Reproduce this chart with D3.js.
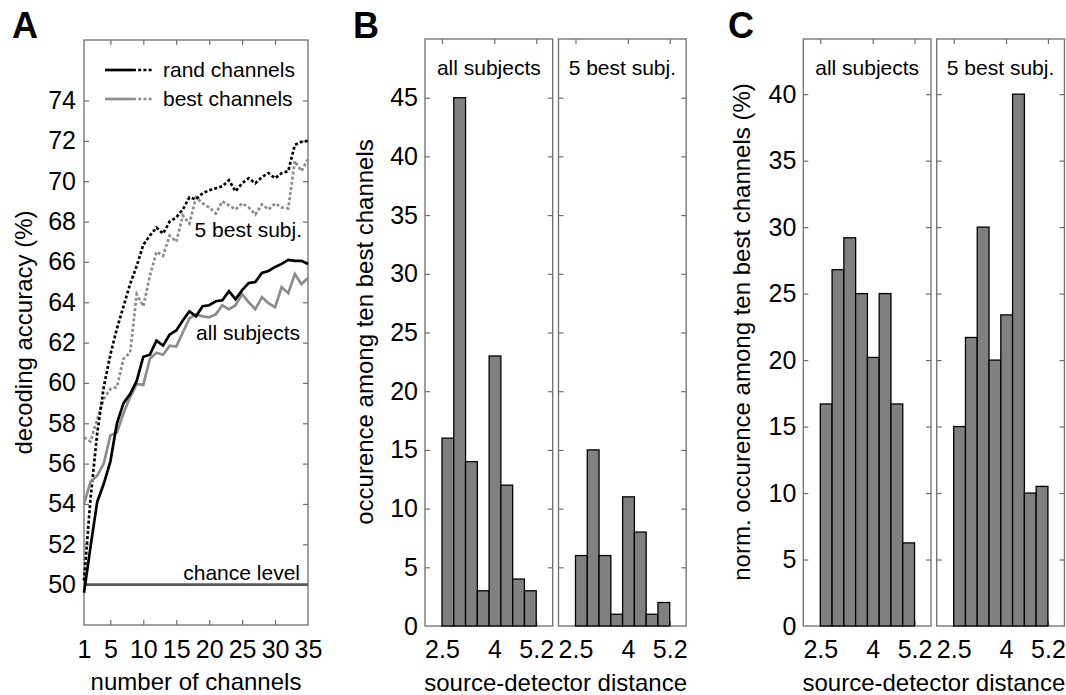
<!DOCTYPE html>
<html lang="en">
<head>
<meta charset="UTF-8">
<title>Decoding accuracy and channel distance</title>
<script src="https://d3js.org/d3.v7.min.js"></script>
<style>
    body {
    margin: 0;
    background-color: white;
    }
    svg text {
    font-family: "Liberation Sans", Arial, sans-serif;
    fill: black;
    }
    .frame {
    fill: none;
    stroke: #6e6e6e;
    stroke-width: 1.3px;
    }
    .tick line {
    stroke: #6e6e6e;
    stroke-width: 1.2px;
    }
    .tick text {
    font-size: 25px;
    }
    .title {
    font-size: 24px;
    }
    .note {
    font-size: 21px;
    }
    .letter {
    font-size: 36px;
    font-weight: bold;
    }
    .bar {
    fill: #808080;
    stroke: black;
    stroke-width: 1.3px;
    }
</style>
</head>
<body>
<svg id="fig" width="1066" height="695"></svg>
<script>
    const width = 1066;
    const height = 695;
    const svg = d3.select("#fig")
                .attr("width", width)
                .attr("height", height);

    // panel A: decoding accuracy vs number of channels
    const channels = [1, 2, 3, 4, 5, 6, 7, 8, 9, 10, 11, 12, 13, 14, 15, 16, 17, 18,
                      19, 20, 21, 22, 23, 24, 25, 26, 27, 28, 29, 30, 31, 32, 33, 34, 35];
    const randAll = [49.6, 51.9, 54.1, 55.0, 56.1, 58.0, 59.0, 59.45, 60.1, 61.3, 61.4, 62.1,
                     61.85, 62.4, 62.6, 63.1, 63.55, 63.3, 63.8, 63.85, 64.05, 64.1, 64.55, 64.15,
                     64.6, 64.95, 65.0, 65.45, 65.55, 65.75, 65.9, 66.1, 66.05, 66.05, 65.9];
    const bestAll = [54.0, 55.1, 55.4, 56.0, 57.4, 57.55, 58.5, 59.3, 59.95, 59.9, 61.2, 61.5,
                     61.4, 61.85, 61.8, 62.5, 63.2, 63.4, 63.3, 63.25, 63.4, 63.85, 63.65, 63.85,
                     64.4, 64.0, 63.65, 64.25, 63.95, 63.75, 64.75, 64.45, 65.4, 64.9, 65.2];
    const randBest = [50.2, 54.3, 57.5, 59.8, 61.4, 62.7, 63.8, 64.9, 65.8, 66.85, 67.3, 67.7,
                      67.4, 68.0, 68.2, 68.6, 69.2, 69.1, 69.4, 69.55, 69.65, 69.75, 70.05, 69.5,
                      69.9, 70.15, 69.9, 70.2, 70.4, 70.15, 70.4, 70.5, 71.8, 71.95, 72.0];
    const bestBest = [57.3, 57.1, 58.2, 59.2, 59.7, 59.8, 61.2, 61.5, 64.4, 63.8, 65.3, 66.5,
                      66.3, 67.3, 67.0, 68.3, 67.9, 69.2, 68.9, 68.7, 68.4, 69.0, 68.8, 68.6,
                      68.9, 68.7, 68.35, 68.85, 68.6, 68.9, 68.7, 68.65, 71.0, 70.5, 71.1];
    const chanceLevel = 50;
    const accTicks = [50, 52, 54, 56, 58, 60, 62, 64, 66, 68, 70, 72, 74];
    const chanTicks = [1, 5, 10, 15, 20, 25, 30, 35];

    // panels B and C: histograms over source-detector distance
    const binEdges = [2.5, 2.8375, 3.175, 3.5125, 3.85, 4.1875, 4.525, 4.8625, 5.2, 5.5375];
    const countAll = [16, 45, 14, 3, 23, 12, 4, 3];
    const countBest = [6, 15, 6, 1, 11, 8, 1, 2, 0];
    const normAll = [16.7, 26.8, 29.2, 25, 20.2, 25, 16.7, 6.25];
    const normBest = [15, 21.7, 30, 20, 23.4, 40, 10, 10.5, 0];
    const distTicks = [2.5, 4, 5.2];
    const countTicks = [0, 5, 10, 15, 20, 25, 30, 35, 40, 45];
    const normTicks = [0, 5, 10, 15, 20, 25, 30, 35, 40];

    const tick = 5;

    // ---------- panel A ----------
    const ax = {left: 84, right: 308, top: 40, bottom: 625};
    const x = d3.scaleLinear().domain([1, 35]).range([ax.left, ax.right]);
    const y = d3.scaleLinear().domain([48, 77]).range([ax.bottom, ax.top]);

    const gA = svg.append("g");

    gA.append("g")
    .attr("transform", `translate(${ax.left},0)`)
    .call(d3.axisLeft(y).tickValues(accTicks).tickSize(-tick).tickPadding(8))
    .call(g => g.select(".domain").remove());
    gA.append("g")
    .attr("transform", `translate(${ax.right},0)`)
    .call(d3.axisRight(y).tickValues(accTicks).tickSize(-tick).tickFormat(""))
    .call(g => g.select(".domain").remove());
    gA.append("g")
    .attr("transform", `translate(0,${ax.bottom})`)
    .call(d3.axisBottom(x).tickValues(chanTicks).tickSize(-tick).tickPadding(15))
    .call(g => g.select(".domain").remove())
    .call(g => g.selectAll(".tick line").filter(d => d === 1 || d === 35).remove());
    gA.append("g")
    .attr("transform", `translate(0,${ax.top})`)
    .call(d3.axisTop(x).tickValues(chanTicks.slice(1, -1)).tickSize(-tick).tickFormat(""))
    .call(g => g.select(".domain").remove());

    gA.append("rect")
    .attr("class", "frame")
    .attr("x", ax.left)
    .attr("y", ax.top)
    .attr("width", ax.right - ax.left)
    .attr("height", ax.bottom - ax.top);

    // chance level
    gA.append("line")
    .attr("x1", x(1))
    .attr("x2", x(35))
    .attr("y1", y(chanceLevel))
    .attr("y2", y(chanceLevel))
    .attr("stroke", "#5a5a5a")
    .attr("stroke-width", 2.8);

    const line = d3.line()
    .x((d, i) => x(channels[i]))
    .y(d => y(d));

    const series = [
      {values: bestBest, color: "#8c8c8c", dash: "3,2.2"},
      {values: randBest, color: "black", dash: "3,2.2"},
      {values: bestAll, color: "#8c8c8c", dash: null},
      {values: randAll, color: "black", dash: null}
    ];
    series.forEach(s => {
      gA.append("path")
      .datum(s.values)
      .attr("d", line)
      .attr("fill", "none")
      .attr("stroke", s.color)
      .attr("stroke-width", 2.7)
      .attr("stroke-dasharray", s.dash);
    });

    // legend
    const legend = [
      {name: "rand channels", color: "black", y: 70},
      {name: "best channels", color: "#8c8c8c", y: 99}
    ];
    legend.forEach(l => {
      gA.append("line")
      .attr("x1", 105).attr("x2", 133)
      .attr("y1", l.y).attr("y2", l.y)
      .attr("stroke", l.color).attr("stroke-width", 2.7);
      gA.append("line")
      .attr("x1", 133).attr("x2", 153)
      .attr("y1", l.y).attr("y2", l.y)
      .attr("stroke", l.color).attr("stroke-width", 2.7)
      .attr("stroke-dasharray", "3,2.2");
      gA.append("text")
      .attr("class", "note")
      .attr("x", 163)
      .attr("y", l.y + 7)
      .text(l.name);
    });

    gA.append("text").attr("class", "note")
    .attr("x", 302).attr("y", 237).attr("text-anchor", "end")
    .text("5 best subj.");
    gA.append("text").attr("class", "note")
    .attr("x", 300).attr("y", 340).attr("text-anchor", "end")
    .text("all subjects");
    gA.append("text").attr("class", "note")
    .attr("x", 300).attr("y", 580).attr("text-anchor", "end")
    .text("chance level");

    gA.append("text").attr("class", "title")
    .attr("x", (ax.left + ax.right) / 2).attr("y", 690)
    .attr("text-anchor", "middle")
    .text("number of channels");
    gA.append("text").attr("class", "title")
    .attr("transform", `translate(32,${(ax.top + ax.bottom) / 2}) rotate(-90)`)
    .attr("text-anchor", "middle")
    .text("decoding accuracy (%)");

    gA.append("text").attr("class", "letter")
    .attr("x", 12).attr("y", 38).text("A");

    // ---------- panels B and C ----------
    function histPanel(opts) {
      const g = svg.append("g");
      const yScale = d3.scaleLinear().domain(opts.yDomain).range([626, 39]);
      opts.subs.forEach((sub, k) => {
        const xScale = d3.scaleLinear().domain([2.013, 5.672]).range([sub.left, sub.left + 127.7]);

        g.append("g")
        .attr("transform", `translate(${sub.left},0)`)
        .call(d3.axisLeft(yScale).tickValues(opts.yTicks).tickSize(-tick).tickPadding(7)
              .tickFormat(k === 0 ? d3.format("d") : ""))
        .call(a => a.select(".domain").remove())
        .call(a => a.selectAll(".tick line").filter(d => d === 0).remove());
        g.append("g")
        .attr("transform", `translate(${sub.left + 127.7},0)`)
        .call(d3.axisRight(yScale).tickValues(opts.yTicks).tickSize(-tick).tickFormat(""))
        .call(a => a.select(".domain").remove())
        .call(a => a.selectAll(".tick line").filter(d => d === 0).remove());
        g.append("g")
        .attr("transform", "translate(0,626)")
        .call(d3.axisBottom(xScale).tickValues(distTicks).tickSize(-tick).tickPadding(14)
              .tickFormat(d3.format("")))
        .call(a => a.select(".domain").remove());
        g.append("g")
        .attr("transform", "translate(0,39)")
        .call(d3.axisTop(xScale).tickValues(distTicks).tickSize(-tick).tickFormat(""))
        .call(a => a.select(".domain").remove());

        g.append("rect")
        .attr("class", "frame")
        .attr("x", sub.left)
        .attr("y", 39)
        .attr("width", 127.7)
        .attr("height", 626 - 39);

        g.selectAll(null)
        .data(sub.values)
        .enter()
        .append("rect")
        .attr("class", "bar")
        .attr("x", (d, i) => xScale(binEdges[i]))
        .attr("width", (d, i) => xScale(binEdges[i + 1]) - xScale(binEdges[i]))
        .attr("y", d => yScale(d))
        .attr("height", d => yScale(0) - yScale(d));

        g.append("text").attr("class", "note")
        .attr("x", sub.left + 127.7 / 2).attr("y", 75)
        .attr("text-anchor", "middle")
        .text(sub.label);
      });

      g.append("text").attr("class", "title")
      .attr("x", (opts.subs[0].left + opts.subs[1].left + 127.7) / 2).attr("y", 691)
      .attr("text-anchor", "middle")
      .text("source-detector distance");
      g.append("text").attr("class", "title")
      .attr("transform", `translate(${opts.titleX},332) rotate(-90)`)
      .attr("text-anchor", "middle")
      .text(opts.yTitle);
      g.append("text").attr("class", "letter")
      .attr("x", opts.letterX).attr("y", 38).text(opts.letter);
    }

    histPanel({
      letter: "B", letterX: 353, titleX: 373,
      yTitle: "occurence among ten best channels",
      yDomain: [0, 50], yTicks: countTicks,
      subs: [
        {left: 425, values: countAll, label: "all subjects"},
        {left: 558.5, values: countBest, label: "5 best subj."}
      ]
    });

    histPanel({
      letter: "C", letterX: 728, titleX: 750,
      yTitle: "norm. occurence among ten best channels (%)",
      yDomain: [0, 44.15], yTicks: normTicks,
      subs: [
        {left: 803.3, values: normAll, label: "all subjects"},
        {left: 936.7, values: normBest, label: "5 best subj."}
      ]
    });
</script>
</body>
</html>
